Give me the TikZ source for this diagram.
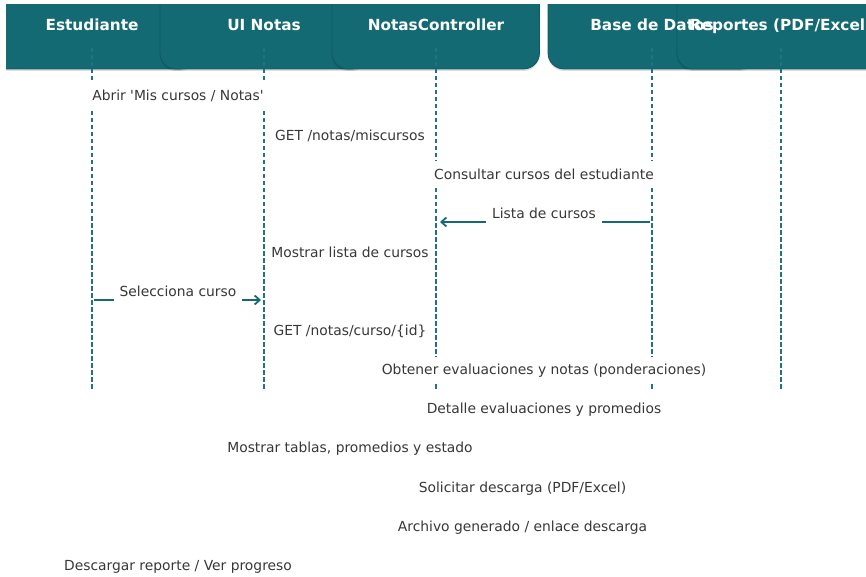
\documentclass[tikz,border=0pt]{standalone}
\usepackage{fontspec}
\setmainfont{DejaVu Sans}
% families without the TeX quote mapping, so ' stays a straight apostrophe
\newfontfamily\labfont{DejaVu Sans}
\newfontfamily\headfont{DejaVu Sans}
\usetikzlibrary{arrows.meta}

\definecolor{headfill}{HTML}{146A73}
\definecolor{headedge}{HTML}{0E5A62}
\definecolor{lifeclr}{HTML}{22737E}
\definecolor{msgtext}{HTML}{383838}
\definecolor{arrowclr}{HTML}{146A73}

\tikzset{
  header/.style={fill=headfill, draw=headedge, line width=0.8pt, rounded corners=16pt},
  headshadow/.style={fill=black, opacity=0.12, rounded corners=16pt},
  headtext/.style={text=white, font=\headfont\fontsize{15.3}{18}\selectfont\bfseries,
    anchor=base, inner sep=0pt},
  lifeline/.style={draw=lifeclr, line width=1.2pt, dash pattern=on 4.5pt off 2.5pt},
  msglabel/.style={fill=white, text=msgtext, font=\labfont\fontsize{13.85}{16}\selectfont,
    anchor=base, inner xsep=6pt, inner ysep=0pt, text height=18pt, text depth=9pt},
  msgarrow/.style={draw=arrowclr, line width=1.8pt,
    -{Straight Barb[length=5pt,width=9pt]}},
}

\begin{document}
\begin{tikzpicture}[x=1pt, y=-1pt]
  \useasboundingbox (0,0) rectangle (866,577);

  % participant header boxes (tops and left edge cut by the frame)
  \begin{scope}
    \clip (6,5) rectangle (866,100);
    \foreach \cx in {92,264,436,652,781} {
      \fill[headshadow] (\cx-104,-18) rectangle (\cx+103.5,71);
      \filldraw[header] (\cx-104,-20) rectangle (\cx+103.5,69);
    }
  \end{scope}

  % participant names
  \node[headtext] (hEst) at (92,31)  {Estudiante};
  \node[headtext] (hUI)  at (264,31) {UI Notas};
  \node[headtext] (hCtl) at (436,31) {NotasController};
  \node[headtext] (hDB)  at (652,31) {Base de Datos};
  \node[headtext] (hRep) at (781,31) {Reportes (PDF/Excel)};

  % lifelines
  \foreach \n/\cx in {Est/92, UI/264, Ctl/436, DB/652, Rep/781} {
    \coordinate (t\n) at (\cx,48);
    \coordinate (b\n) at (\cx,390);
    \draw[lifeline] (t\n) -- (b\n);
  }

  % visible message arrows
  \coordinate (lcFrom) at (650,222);
  \coordinate (lcTo)   at (440,222);
  \draw[msgarrow] (lcFrom) -- (lcTo);
  \coordinate (scFrom) at (94,300);
  \coordinate (scTo)   at (261,300);
  \draw[msgarrow] (scFrom) -- (scTo);

  % message labels
  \node[msglabel] (m1)  at (178,101)   {Abrir 'Mis cursos / Notas'};
  \node[msglabel] (m2)  at (350,140.1) {GET /notas/miscursos};
  \node[msglabel] (m3)  at (544,179.2) {Consultar cursos del estudiante};
  \node[msglabel] (m4)  at (544,218.3) {Lista de cursos};
  \node[msglabel] (m5)  at (350,257.4) {Mostrar lista de cursos};
  \node[msglabel] (m6)  at (178,296.5) {Selecciona curso};
  \node[msglabel] (m7)  at (350,335.6) {GET /notas/curso/\{id\}};
  \node[msglabel] (m8)  at (544,374.7) {Obtener evaluaciones y notas (ponderaciones)};
  \node[msglabel] (m9)  at (544,413.8) {Detalle evaluaciones y promedios};
  \node[msglabel] (m10) at (350,452.9) {Mostrar tablas, promedios y estado};
  \node[msglabel] (m11) at (522.5,492) {Solicitar descarga (PDF/Excel)};
  \node[msglabel] (m12) at (522.5,531.1) {Archivo generado / enlace descarga};
  \node[msglabel] (m13) at (178,570.2) {Descargar reporte / Ver progreso};
\end{tikzpicture}
\end{document}
